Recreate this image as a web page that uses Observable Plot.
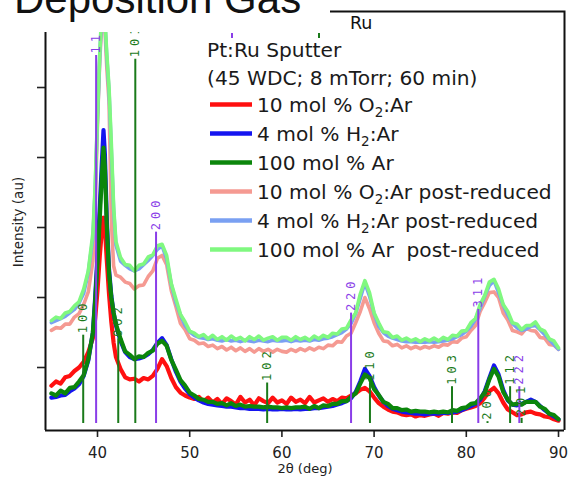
<!DOCTYPE html>
<html><head><meta charset="utf-8">
<script src="https://cdn.jsdelivr.net/npm/d3@7"></script>
<script src="https://cdn.jsdelivr.net/npm/@observablehq/plot@0.6"></script>
<style>
body{margin:0;background:#fff;}
#wrap{position:relative;width:570px;height:478px;overflow:hidden;background:#fff;}
#wrap > svg{position:absolute;left:0;top:0;}
</style></head><body><div id="wrap"></div>
<script>
// 2θ grid (deg)
const xs = [35,35.5,36,36.5,37,37.5,38,38.5,39,39.5,
  39.75,40,40.25,40.5,40.65,40.8,41,41.25,41.5,41.75,42,
  42.5,43,43.5,44,44.5,45,45.5,46,46.5,47,47.5,48,48.5,49,49.5,50,
  50.5,51,51.5,52,52.5,53,53.5,54,54.5,55,55.5,56,56.5,57,57.5,58,58.5,59,59.5,60,
  60.5,61,61.5,62,62.5,63,63.5,64,64.5,65,65.5,66,66.5,67,67.5,68,68.5,69,69.5,70,
  70.5,71,71.5,72,72.5,73,73.5,74,74.5,75,75.5,76,76.5,77,77.5,78,78.5,79,79.5,80,
  80.5,81,81.5,82,82.5,83,83.5,84,84.5,85,85.5,86,86.5,87,87.5,88,88.5,89,89.5,90];

const seriesNames = ["10 mol % O2:Ar","4 mol % H2:Ar","100 mol % Ar",
  "10 mol % O2:Ar post-reduced","4 mol % H2:Ar post-reduced","100 mol % Ar  post-reduced"];
const seriesColors = ["#ff1010","#1414f0","#0b860b","#f59a92","#7aa0f2","#80f880"];

const o2Ar = [.74,.80,.77,.86,.88,.95,1.0,1.08,1.22,1.42,
  1.7,2.1,2.6,3.0,3.14,3.0,2.55,2.05,1.65,1.35,1.15,
  .98,.86,.83,.84,.80,.85,.83,.88,.98,1.12,1.02,.85,.72,.64,.60,.57,
  .55,.58,.51,.57,.50,.55,.48,.56,.52,.47,.58,.50,.54,.46,.56,.52,.49,.57,.50,.53,
  .48,.57,.51,.54,.49,.58,.50,.53,.56,.51,.55,.52,.57,.56,.60,.63,.68,.71,.66,.57,
  .49,.44,.40,.37,.36,.33,.32,.33,.30,.32,.31,.33,.34,.31,.35,.34,.36,.35,.39,.41,
  .43,.45,.49,.57,.66,.71,.63,.50,.40,.36,.32,.33,.36,.37,.34,.33,.30,.29,.26,.24];
const h2Ar = [.57,.58,.60,.61,.66,.70,.76,.88,1.10,1.50,
  2.0,2.6,3.3,4.0,4.39,4.05,3.15,2.4,2.02,1.78,1.6,
  1.38,1.22,1.15,1.12,1.13,1.15,1.19,1.25,1.35,1.42,1.32,1.12,.94,.80,.70,.62,
  .57,.53,.50,.48,.47,.46,.45,.44,.44,.43,.42,.42,.41,.41,.41,.40,.41,.40,.40,.41,
  .40,.40,.41,.40,.41,.41,.42,.42,.43,.44,.45,.47,.49,.52,.56,.65,.80,.98,.88,.72,
  .60,.51,.45,.41,.39,.37,.36,.35,.34,.34,.33,.34,.34,.34,.35,.35,.36,.37,.39,.42,
  .45,.48,.54,.66,.85,1.03,.90,.68,.53,.47,.46,.48,.51,.54,.51,.45,.39,.34,.30,.26];
const ar = [.63,.60,.67,.63,.71,.72,.80,.89,1.12,1.50,
  1.95,2.5,3.15,3.8,4.14,3.85,3.05,2.35,2.0,1.78,1.62,
  1.41,1.23,1.18,1.12,1.16,1.15,1.21,1.24,1.34,1.38,1.31,1.11,.97,.82,.74,.64,
  .60,.55,.54,.51,.51,.48,.49,.46,.49,.45,.47,.44,.45,.44,.44,.43,.44,.43,.43,.42,
  .43,.42,.43,.43,.44,.41,.45,.42,.46,.45,.48,.48,.52,.52,.58,.63,.77,.90,.85,.69,
  .61,.51,.48,.42,.42,.39,.40,.37,.38,.37,.37,.36,.37,.36,.37,.36,.39,.38,.42,.43,
  .48,.49,.56,.64,.83,.98,.87,.65,.54,.47,.48,.47,.51,.51,.51,.44,.41,.34,.32,.26];
const o2ArRed = [1.53,1.57,1.56,1.62,1.62,1.72,1.77,1.90,2.08,2.52,
  3.3,4.5,5.4,6.0,6.25,5.85,5.3,4.8,3.1,2.45,2.32,
  2.29,2.22,2.20,2.12,2.17,2.18,2.30,2.38,2.56,2.60,2.47,2.10,1.87,1.63,1.54,1.41,
  1.39,1.34,1.35,1.30,1.32,1.27,1.30,1.25,1.29,1.24,1.28,1.23,1.27,1.22,1.27,1.23,1.26,1.22,1.26,1.23,
  1.22,1.26,1.23,1.27,1.24,1.28,1.25,1.29,1.27,1.32,1.31,1.37,1.36,1.45,1.49,1.64,1.80,2.0,1.84,1.64,
  1.49,1.38,1.37,1.31,1.33,1.28,1.31,1.27,1.30,1.27,1.30,1.28,1.31,1.29,1.33,1.32,1.37,1.36,1.42,1.44,
  1.53,1.60,1.80,1.93,2.07,2.08,2.00,1.78,1.68,1.53,1.51,1.48,1.56,1.53,1.52,1.43,1.42,1.33,1.32,1.26];
const h2ArRed = [1.64,1.67,1.70,1.73,1.78,1.83,1.92,2.06,2.36,2.85,
  3.55,4.55,5.45,6.15,6.35,5.95,5.45,4.95,4.1,3.25,2.75,
  2.52,2.46,2.41,2.38,2.41,2.47,2.53,2.60,2.69,2.74,2.55,2.19,1.93,1.75,1.60,1.51,
  1.46,1.43,1.42,1.40,1.41,1.39,1.38,1.40,1.38,1.39,1.37,1.39,1.38,1.37,1.39,1.38,1.37,1.39,1.38,1.38,
  1.39,1.37,1.39,1.38,1.39,1.38,1.40,1.39,1.41,1.42,1.44,1.47,1.50,1.55,1.63,1.77,1.99,2.21,2.02,1.77,
  1.59,1.50,1.45,1.42,1.40,1.38,1.37,1.37,1.36,1.36,1.36,1.37,1.36,1.37,1.38,1.39,1.41,1.44,1.47,1.52,
  1.59,1.69,1.85,2.02,2.17,2.24,2.07,1.89,1.75,1.63,1.57,1.53,1.55,1.59,1.60,1.54,1.47,1.40,1.33,1.26];
const arRed = [1.67,1.72,1.70,1.78,1.80,1.88,1.94,2.12,2.38,2.92,
  3.6,4.6,5.5,6.2,6.4,6.0,5.5,5.0,4.2,3.3,2.8,
  2.57,2.47,2.46,2.38,2.46,2.48,2.58,2.61,2.74,2.76,2.60,2.20,1.98,1.76,1.65,1.52,
  1.49,1.44,1.47,1.41,1.46,1.40,1.44,1.39,1.45,1.40,1.43,1.38,1.44,1.40,1.45,1.39,1.42,1.44,1.39,1.43,
  1.43,1.39,1.44,1.40,1.43,1.39,1.45,1.41,1.46,1.43,1.49,1.48,1.55,1.56,1.68,1.78,2.05,2.24,2.07,1.78,
  1.64,1.51,1.50,1.43,1.45,1.39,1.42,1.38,1.41,1.37,1.41,1.38,1.42,1.38,1.43,1.40,1.46,1.45,1.52,1.53,
  1.64,1.70,1.90,2.03,2.22,2.26,2.12,1.90,1.80,1.64,1.62,1.54,1.60,1.60,1.65,1.55,1.52,1.41,1.38,1.28];
const seriesValues = [o2Ar, h2Ar, ar, o2ArRed, h2ArRed, arRed];

// reference patterns (stick positions, relative intensity, hkl)
const ptPos = [39.85, 46.35, 67.5, 81.3, 85.75];
const ptInt = [100, 52, 30, 31, 10];
const ptHkl = ["111","200","220","311","222"];
const ruPos = [38.45, 42.25, 44.1, 58.4, 69.55, 78.45, 82.3, 84.75, 86.0];
const ruInt = [24, 23, 99, 11, 11, 10, 0.5, 10, 1.4];
const ruHkl = ["100","002","101","102","110","103","200","112","201"];

const xTicks = [40,50,60,70,80,90];
const yTicks = [1,2,3,4,5];

const xDomain = [34.36, 90.65];
const yDomain = [0.1, 5.786];
const stickBase = 0.2, stickScale = 0.05257;
const ptColor = "#8a3ee8", ruColor = "#1a7a1a";

const sticks = (pos, inten, hkl) => pos.map((p, i) => ({x: p, y1: stickBase, y2: stickBase + inten[i]*stickScale, t: hkl[i]}));
const pt = sticks(ptPos, ptInt, ptHkl);
const ru = sticks(ruPos, ruInt, ruHkl);

const lineMarks = seriesValues.map((vals, i) =>
  Plot.line(xs.map((x, j) => ({x, y: vals[j]})), {x: "x", y: "y", stroke: seriesColors[i],
    strokeWidth: i < 3 ? 4.2 : 3.6, clip: true, strokeLinejoin: "round"}));

const stickMarks = [[pt, ptColor], [ru, ruColor]].flatMap(([d, c]) => [
  Plot.ruleX(d, {x: "x", y1: "y1", y2: "y2", stroke: c, strokeWidth: 2, clip: true}),
  Plot.text(d, {x: "x", y: "y2", text: "t", rotate: -90, textAnchor: "start", dy: -2, fill: c,
    fontFamily: "DejaVu Sans Mono", fontSize: 12, clip: true})
]);

const plot = Plot.plot({
  width: 570, height: 478,
  marginLeft: 45, marginRight: 6, marginTop: 32, marginBottom: 48,
  x: {domain: xDomain},
  y: {domain: yDomain},
  style: {fontFamily: "DejaVu Sans", background: "transparent", color: "#222"},
  marks: [
    ...lineMarks,
    ...stickMarks,
    Plot.axisX({ticks: xTicks, tickSize: 7, tickPadding: 10, fontSize: 15, strokeWidth: 1.6, label: null}),
    Plot.axisY({ticks: yTicks, tickSize: 8, tickFormat: () => "", strokeWidth: 1.6, label: null}),
    Plot.ruleX([xDomain[0]], {stroke: "#111", strokeWidth: 2}),
    Plot.ruleY([yDomain[0]], {stroke: "#111", strokeWidth: 2})
  ]
});
const wrap = document.getElementById("wrap");
wrap.append(plot);
d3.select(plot).selectAll('g[aria-label="text"] text').style("letter-spacing", "4px");

// overlay: panel remnants, legend, axis titles
const ov = d3.select(wrap).append("svg").attr("width", 570).attr("height", 478)
  .style("position","absolute").style("left",0).style("top",0);
ov.append("text").attr("x", 14).attr("y", 12.5).attr("font-family","Liberation Sans, Arial, sans-serif")
  .attr("font-size", 42).attr("fill","#111").text("Deposition Gas");
ov.append("path").attr("d","M330,11.5H564.5V430").attr("fill","none").attr("stroke","#111").attr("stroke-width",2);
ov.append("text").attr("x", 350).attr("y", 29).attr("font-family","DejaVu Sans").attr("font-size",17.5).attr("fill","#111").text("Ru");
ov.append("rect").attr("x",231).attr("y",33).attr("width",2).attr("height",5).attr("fill",ptColor);
ov.append("rect").attr("x",318).attr("y",33).attr("width",2).attr("height",5).attr("fill",ruColor);

const legFont = 20.2;
const hdr = ["Pt:Ru Sputter", "(45 WDC; 8 mTorr; 60 min)"];
const hdrBase = [57, 85];
const rowBase = [112, 141, 170, 199, 228, 257];
hdr.forEach((t, i) => ov.append("text").attr("x", 207).attr("y", hdrBase[i])
  .attr("font-family","DejaVu Sans").attr("font-size",legFont).attr("fill","#1a1a1a").text(t));
seriesNames.forEach((name, i) => {
  const yb = rowBase[i];
  ov.append("line").attr("x1",210).attr("x2",252).attr("y1",yb-7.5).attr("y2",yb-7.5)
    .attr("stroke",seriesColors[i]).attr("stroke-width",4.5);
  const t = ov.append("text").attr("x",257).attr("y",yb).attr("font-family","DejaVu Sans")
    .attr("font-size",legFont).attr("fill","#1a1a1a");
  const m = name.match(/^(.*[OH])2(.*)$/);
  if (m) {
    t.append("tspan").text(m[1]);
    t.append("tspan").attr("font-size",13.5).attr("dy",5).text("2");
    t.append("tspan").attr("dy",-5).style("white-space","pre").text(m[2]);
  } else {
    t.style("white-space","pre").text(name);
  }
});

ov.append("text").attr("x",305).attr("y",473).attr("text-anchor","middle").attr("font-family","DejaVu Sans")
  .attr("font-size",13).attr("fill","#222").text("2θ (deg)");
ov.append("text").attr("transform","translate(23,222) rotate(-90)").attr("text-anchor","middle")
  .attr("font-family","DejaVu Sans").attr("font-size",13.5).attr("fill","#222").text("Intensity (au)");
</script></body></html>
